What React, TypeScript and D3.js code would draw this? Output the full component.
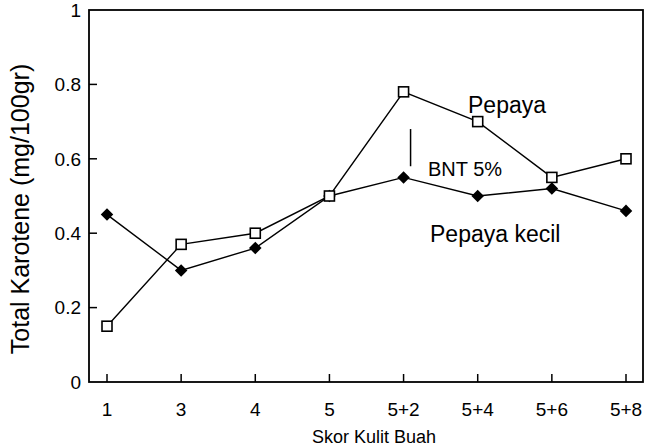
import React, { useEffect, useRef } from 'react';
import * as d3 from 'd3';

const categories = ['1', '3', '4', '5', '5+2', '5+4', '5+6', '5+8'];
const pepaya = [0.15, 0.37, 0.40, 0.50, 0.78, 0.70, 0.55, 0.60];
const pepayaKecil = [0.45, 0.30, 0.36, 0.50, 0.55, 0.50, 0.52, 0.46];
const yTicks = [0, 0.2, 0.4, 0.6, 0.8, 1];
const bnt = { category: '5+2', offset: 7, low: 0.58, high: 0.68 };

const W = 646;
const H = 448;
const FONT = 'Arial, "Liberation Sans", sans-serif';

const App = () => {
  const ref = useRef<SVGSVGElement>(null);

  useEffect(() => {
    document.body.style.margin = '0';
    const svg = d3.select(ref.current);
    svg.selectAll('*').remove();

    const left = 89, right = 643, top = 10, bottom = 382;

    const x = d3.scalePoint<string>().domain(categories).range([107, 626]);
    const y = d3.scaleLinear().domain([0, 1]).range([bottom, top]);

    // frame
    svg.append('rect')
      .attr('x', left).attr('y', top)
      .attr('width', right - left).attr('height', bottom - top)
      .attr('fill', 'none').attr('stroke', '#000').attr('stroke-width', 1.8);

    // y ticks (inward) + labels
    const yAxis = svg.append('g');
    yTicks.forEach(t => {
      if (t > 0 && t < 1) {
        yAxis.append('line')
          .attr('x1', left).attr('x2', left + 8)
          .attr('y1', y(t)).attr('y2', y(t))
          .attr('stroke', '#000').attr('stroke-width', 1.5);
      }
      yAxis.append('text')
        .attr('x', left - 8).attr('y', y(t))
        .attr('dy', '0.36em')
        .attr('text-anchor', 'end')
        .attr('font-family', FONT).attr('font-size', 19)
        .text(d3.format('~g')(t));
    });

    // x ticks (inward) + labels
    const xAxis = svg.append('g');
    categories.forEach(c => {
      xAxis.append('line')
        .attr('x1', x(c)).attr('x2', x(c))
        .attr('y1', bottom).attr('y2', bottom - 8)
        .attr('stroke', '#000').attr('stroke-width', 1.5);
      xAxis.append('text')
        .attr('x', x(c)).attr('y', 416)
        .attr('text-anchor', 'middle')
        .attr('font-family', FONT).attr('font-size', 19)
        .text(c);
    });

    svg.append('text')
      .attr('x', 374).attr('y', 443)
      .attr('text-anchor', 'middle')
      .attr('font-family', FONT).attr('font-size', 18)
      .text('Skor Kulit Buah');

    svg.append('text')
      .attr('transform', `translate(29, 209) rotate(-90)`)
      .attr('text-anchor', 'middle')
      .attr('font-family', FONT).attr('font-size', 25)
      .text('Total Karotene (mg/100gr)');

    const line = d3.line<number>()
      .x((_, i) => x(categories[i]) as number)
      .y(d => y(d));

    // lines
    [pepaya, pepayaKecil].forEach(s => {
      svg.append('path')
        .attr('d', line(s))
        .attr('fill', 'none')
        .attr('stroke', '#000')
        .attr('stroke-width', 1.4);
    });

    // diamonds
    svg.selectAll('.dia')
      .data(pepayaKecil)
      .enter()
      .append('path')
      .attr('class', 'dia')
      .attr('d', d3.symbol().type(d3.symbolDiamond2).size(100)())
      .attr('transform', (d, i) => `translate(${x(categories[i])},${y(d)})`)
      .attr('fill', '#000');

    // squares
    svg.selectAll('.sq')
      .data(pepaya)
      .enter()
      .append('rect')
      .attr('class', 'sq')
      .attr('x', (d, i) => (x(categories[i]) as number) - 5)
      .attr('y', d => y(d) - 5)
      .attr('width', 10).attr('height', 10)
      .attr('fill', '#fff')
      .attr('stroke', '#000')
      .attr('stroke-width', 1.6);

    // BNT 5% bar
    const bx = (x(bnt.category) as number) + bnt.offset;
    svg.append('line')
      .attr('x1', bx).attr('x2', bx)
      .attr('y1', y(bnt.low)).attr('y2', y(bnt.high))
      .attr('stroke', '#000').attr('stroke-width', 1.5);

    const label = (txt: string, lx: number, ly: number, size: number) =>
      svg.append('text')
        .attr('x', lx).attr('y', ly)
        .attr('font-family', FONT).attr('font-size', size)
        .text(txt);

    label('BNT 5%', 428, 176, 20);
    label('Pepaya', 468, 113, 23);
    label('Pepaya kecil', 430, 242, 23);
  }, []);

  return <svg ref={ref} width={W} height={H} style={{ display: 'block' }} />;
};

export default App;
